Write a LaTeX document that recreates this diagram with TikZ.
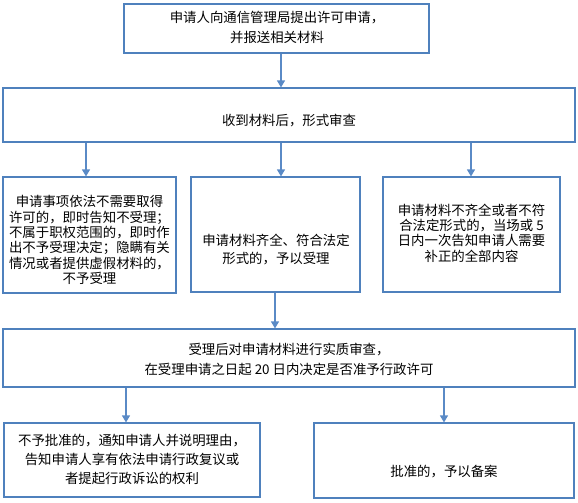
\documentclass[tikz,border=0pt]{standalone}
\usepackage{fontspec}
\newfontfamily\cjk{Noto Sans CJK SC}
\usetikzlibrary{arrows.meta}
\definecolor{boxblue}{HTML}{4F81BD}
\definecolor{arrblue}{HTML}{5A8AC6}
\tikzset{
  box/.style={draw=boxblue, line width=1.1pt, rectangle, inner sep=0pt},
  txt/.style={align=center, inner sep=0pt, font=\cjk\fontsize{13.4}{#1}\selectfont},
  txt/.default=18,
  arr/.style={draw=arrblue, line width=1.2pt, -{Triangle[length=7pt,width=8pt]}},
}
\begin{document}
\begin{tikzpicture}[x=1pt,y=-1pt]
\useasboundingbox (0,0) rectangle (578,503);
% boxes
\node[box, minimum width=305pt, minimum height=49pt] (top) at (276.5,28.5) {};
\node[box, minimum width=572pt, minimum height=54pt] (b2) at (289,115) {};
\node[box, minimum width=173pt, minimum height=116pt] (bL) at (89.5,235) {};
\node[box, minimum width=169pt, minimum height=115pt] (bM) at (275.5,234.5) {};
\node[box, minimum width=177pt, minimum height=115pt] (bR) at (471.5,234.5) {};
\node[box, minimum width=572pt, minimum height=58pt] (b4) at (289,358) {};
\node[box, minimum width=256pt, minimum height=74pt] (b5) at (132,460) {};
\node[box, minimum width=260pt, minimum height=75pt] (b6) at (444,460.5) {};
% texts
\node[txt=20] (ttop) at (277,27) {申请人向通信管理局提出许可申请，\\并报送相关材料};
\node[txt] (tb2) at (289,121) {收到材料后，形式审查};
\node[txt=15.4] (tbL) at (89.5,240) {申请事项依法不需要取得\\许可的，即时告知不受理；\\不属于职权范围的，即时作\\出不予受理决定；隐瞒有关\\情况或者提供虚假材料的，\\不予受理};
\node[txt=18] (tbM) at (276,250) {申请材料齐全、符合法定\\形式的，予以受理};
\node[txt=15.4] (tbR) at (471.5,233) {申请材料不齐全或者不符\\合法定形式的，当场或 5\\日内一次告知申请人需要\\补正的全部内容};
\node[txt=20] (tb4) at (289,359) {受理后对申请材料进行实质审查，\\在受理申请之日起 20 日内决定是否准予行政许可};
\node[txt=19] (tb5) at (132,459) {不予批准的，通知申请人并说明理由，\\告知申请人享有依法申请行政复议或\\者提起行政诉讼的权利};
\node[txt] (tb6) at (444,472) {批准的，予以备案};
% arrows
\draw[arr] (top.south -| 281,0) -- (b2.north -| 281,0);
\draw[arr] (b2.south -| 86,0) -- (bL.north -| 86,0);
\draw[arr] (b2.south -| 281,0) -- (bM.north -| 281,0);
\draw[arr] (b2.south -| 471,0) -- (bR.north -| 471,0);
\draw[arr] (bM.south -| 275,0) -- (b4.north -| 275,0);
\draw[arr] (b4.south -| 126,0) -- (b5.north -| 126,0);
\draw[arr] (b4.south -| 444,0) -- (b6.north -| 444,0);
\end{tikzpicture}
\end{document}
